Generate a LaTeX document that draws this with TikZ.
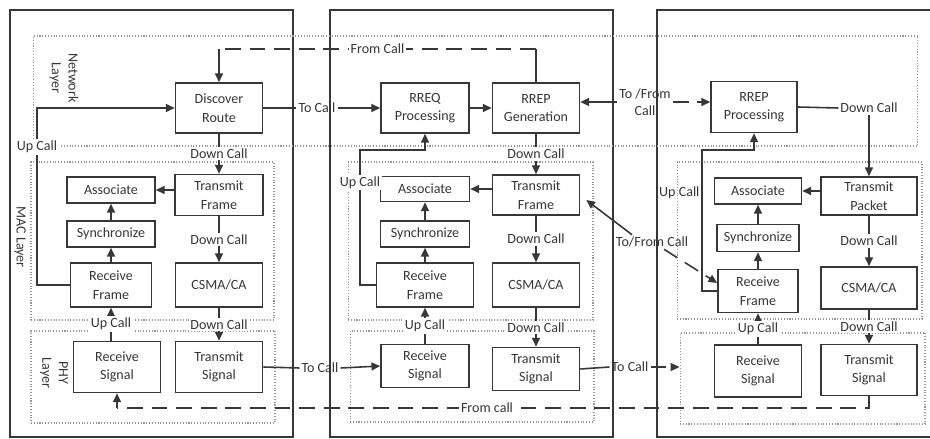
\documentclass[tikz,border=0pt]{standalone}
\usepackage{fontspec}
\setmainfont{Carlito}
\definecolor{nwline}{RGB}{55,55,55}
\definecolor{nwlayer}{RGB}{150,150,150}
\usetikzlibrary{arrows.meta,calc}

\begin{document}
\begin{tikzpicture}[x=0.02cm,y=-0.02cm,
  blk/.style={draw=nwline,line width=0.9pt,fill=white,text=nwline,
    font=\fontsize{8}{10.5}\selectfont,align=center,inner sep=1pt},
  layer/.style={draw=nwlayer,densely dotted,line width=0.6pt,inner sep=0pt},
  side/.style={font=\fontsize{8}{9.5}\selectfont,text=nwline,rotate=-90,align=center},
  lbl/.style={font=\fontsize{8}{10}\selectfont,text=nwline,fill=white,inner sep=1pt,align=center},
  arr/.style={-{Triangle[length=5pt,width=4.5pt]},line width=0.9pt,draw=nwline},
  link/.style={line width=0.9pt,draw=nwline},
  wire/.style={dash pattern=on 9pt off 5pt},
  outer/.style={draw=nwline,line width=1.1pt}]
  \useasboundingbox (0,0) rectangle (930,439);
  % the three stations
  \draw[outer] (10,10) rectangle (293,437);
  \draw[outer] (330,10) rectangle (613,437);
  \draw[outer] (940,10) -- (657,10) -- (657,437) -- (940,437);
  % layers
  \node[layer,minimum width=17.7cm,minimum height=2.2cm] (net) at (475.5,91) {};
  \node[layer,minimum width=4.86cm,minimum height=3.16cm] (macL) at (152.5,241) {};
  \node[layer,minimum width=4.9cm,minimum height=3.16cm] (macM) at (470.5,241) {};
  \node[layer,minimum width=4.9cm,minimum height=3.14cm] (macR) at (799.5,240.5) {};
  \node[layer,minimum width=4.88cm,minimum height=1.84cm] (phyL) at (153,377) {};
  \node[layer,minimum width=4.88cm,minimum height=1.82cm] (phyM) at (472,376.5) {};
  \node[layer,minimum width=4.9cm,minimum height=1.82cm] (phyR) at (802.5,378.5) {};
  \node[side] (netlbl) at (64,78) {Network\\Layer};
  \node[side] (maclbl) at (20,237) {MAC Layer};
  \node[side] (phylbl) at (54,373) {PHY\\Layer};

  % source node
  \node[blk,minimum width=1.74cm,minimum height=1cm] (disc) at (219,108) {Discover\\Route};
  \node[blk,minimum width=1.76cm,minimum height=0.82cm] (tfL) at (219,195) {Transmit\\Frame};
  \node[blk,minimum width=1.76cm,minimum height=0.52cm] (asL) at (111,190) {Associate};
  \node[blk,minimum width=1.76cm,minimum height=0.52cm] (syL) at (111,234) {Synchronize};
  \node[blk,minimum width=1.62cm,minimum height=0.88cm] (rfL) at (111,285) {Receive\\Frame};
  \node[blk,minimum width=1.74cm,minimum height=0.88cm] (csL) at (219,285) {CSMA/CA};
  \node[blk,minimum width=1.74cm,minimum height=1.02cm] (rsL) at (117,367) {Receive\\Signal};
  \node[blk,minimum width=1.74cm,minimum height=1.02cm] (tsL) at (219,367) {Transmit\\Signal};
  % intermediate node
  \node[blk,minimum width=1.76cm,minimum height=1cm] (rreq) at (425,108) {RREQ\\Processing};
  \node[blk,minimum width=1.74cm,minimum height=1cm] (rrepG) at (536,108) {RREP\\Generation};
  \node[blk,minimum width=1.74cm,minimum height=0.8cm] (tfM) at (536,195) {Transmit\\Frame};
  \node[blk,minimum width=1.78cm,minimum height=0.5cm] (asM) at (425,189) {Associate};
  \node[blk,minimum width=1.78cm,minimum height=0.52cm] (syM) at (425,234) {Synchronize};
  \node[blk,minimum width=1.94cm,minimum height=0.88cm] (rfM) at (425,285) {Receive\\Frame};
  \node[blk,minimum width=1.74cm,minimum height=0.88cm] (csM) at (536,285) {CSMA/CA};
  \node[blk,minimum width=1.76cm,minimum height=0.86cm] (rsM) at (425,366) {Receive\\Signal};
  \node[blk,minimum width=1.74cm,minimum height=0.86cm] (tsM) at (536,369) {Transmit\\Signal};
  % destination node
  \node[blk,minimum width=1.72cm,minimum height=1.02cm] (rrepP) at (754,107) {RREP\\Processing};
  \node[blk,minimum width=1.92cm,minimum height=0.76cm] (tpR) at (869,196) {Transmit\\Packet};
  \node[blk,minimum width=1.74cm,minimum height=0.52cm] (asR) at (758,191) {Associate};
  \node[blk,minimum width=1.64cm,minimum height=0.54cm] (syR) at (758,238) {Synchronize};
  \node[blk,minimum width=1.6cm,minimum height=0.86cm] (rfR) at (758,291) {Receive\\Frame};
  \node[blk,minimum width=1.92cm,minimum height=0.84cm] (csR) at (869,288) {CSMA/CA};
  \node[blk,minimum width=1.74cm,minimum height=1.04cm] (rsR) at (758,371) {Receive\\Signal};
  \node[blk,minimum width=1.92cm,minimum height=1.02cm] (tsR) at (869,370) {Transmit\\Signal};

  % labels between stations
  \node[lbl,fill=none] (tcA) at (317,108) {To Call};
  \node[lbl,fill=none] (tcB) at (320,368) {To Call};
  \node[lbl,fill=none] (tcC) at (630,367) {To Call};
  \node[lbl,fill=none] (tfr) at (645,102) {To /From\\Call};
  \node[lbl,fill=none] (dgl) at (652,242) {To/From Call};
  \node[lbl,fill=none] (dcR) at (869,108) {Down Call};
  \coordinate (upL) at (37,108);
  \coordinate (upM) at (360,150);
  \coordinate (upR) at (702,150);
  \coordinate (fcTop) at (536,49);
  \coordinate (fcL) at (219,49);
  \coordinate (fromL) at (117,408);

  % source arrows
  \draw[arr] (disc.south) -- node[lbl]{Down Call} (tfL.north);
  \draw[arr] (tfL.west |- asL) -- (asL.east);
  \draw[arr] (tfL.south) -- node[lbl]{Down Call} (csL.north);
  \draw[arr] (csL.south) -- node[lbl]{Down Call} (tsL.north);
  \draw[arr] (rsL.north -| rfL) -- node[lbl]{Up Call} (rfL.south);
  \draw[arr] (rfL.north) -- (syL.south);
  \draw[arr] (syL.north) -- (asL.south);
  \draw[arr] (rfL.west) -| node[lbl,pos=0.89]{Up Call} (upL) -- (disc.west);
  \draw[link] (disc.east) -- (tcA.west);
  \draw[arr] (tcA.east) -- (rreq.west);
  \draw[link] (tsL.east) -- (tcB.west);
  \draw[arr] (tcB.east) -- (rsM.west);
  % intermediate arrows
  \draw[arr] (rreq.east) -- (rrepG.west);
  \draw[arr] (rrepG.south) -- node[lbl]{Down Call} (tfM.north);
  \draw[arr] (tfM.west |- asM) -- (asM.east);
  \draw[arr] (tfM.south) -- node[lbl]{Down Call} (csM.north);
  \draw[arr] (csM.south) -- node[lbl]{Down Call} (tsM.north);
  \draw[arr] (rsM.north) -- node[lbl]{Up Call} (rfM.south);
  \draw[arr] (rfM.north) -- (syM.south);
  \draw[arr] (syM.north) -- (asM.south);
  \draw[arr] (rfM.west) -| node[lbl,pos=0.88]{Up Call} (upM) -| (rreq.south);
  \draw[link] (rrepG.north) -- (fcTop);
  \draw[link,wire] (fcTop) -- node[lbl]{From Call} (fcL);
  \draw[arr] (fcL) -- (disc.north);
  \draw[arr] (tfr.west) -- (tfr.west -| rrepG.east);
  \draw[arr,wire] (tfr.east) -- (tfr.east -| rrepP.west);
  \draw[arr] ($(dgl.north)+(-20,0)$) -- ($(tfM.east)+(6,5)$);
  \draw[arr,wire] ($(dgl.south)+(12,0)$) -- ($(rfR.west)+(0,-8)$);
  \draw[link] (tsM.east) -- (tcC.west);
  \draw[arr,wire] (tcC.east) -- (tcC -| phyR.west);
  % destination arrows
  \draw[link] (rrepP.east) -- (dcR.west);
  \draw[arr] (dcR.south) -- (tpR.north);
  \draw[arr] (tpR.west |- asR) -- (asR.east);
  \draw[arr] (tpR.south) -- node[lbl]{Down Call} (csR.north);
  \draw[arr] (csR.south) -- node[lbl]{Down Call} (tsR.north);
  \draw[arr] (rsR.north) -- node[lbl]{Up Call} (rfR.south);
  \draw[arr] (rfR.north) -- (syR.south);
  \draw[arr] (syR.north) -- (asR.south);
  \draw[arr] (rfR.west) -| node[lbl,fill=none,left,pos=0.85]{Up Call} (upR) -| (rrepP.south);
  \draw[link,wire] (tsR.south) |- node[lbl,pos=0.754]{From call} (fromL);
  \draw[arr] (fromL) -- (rsL.south);
\end{tikzpicture}
\end{document}
